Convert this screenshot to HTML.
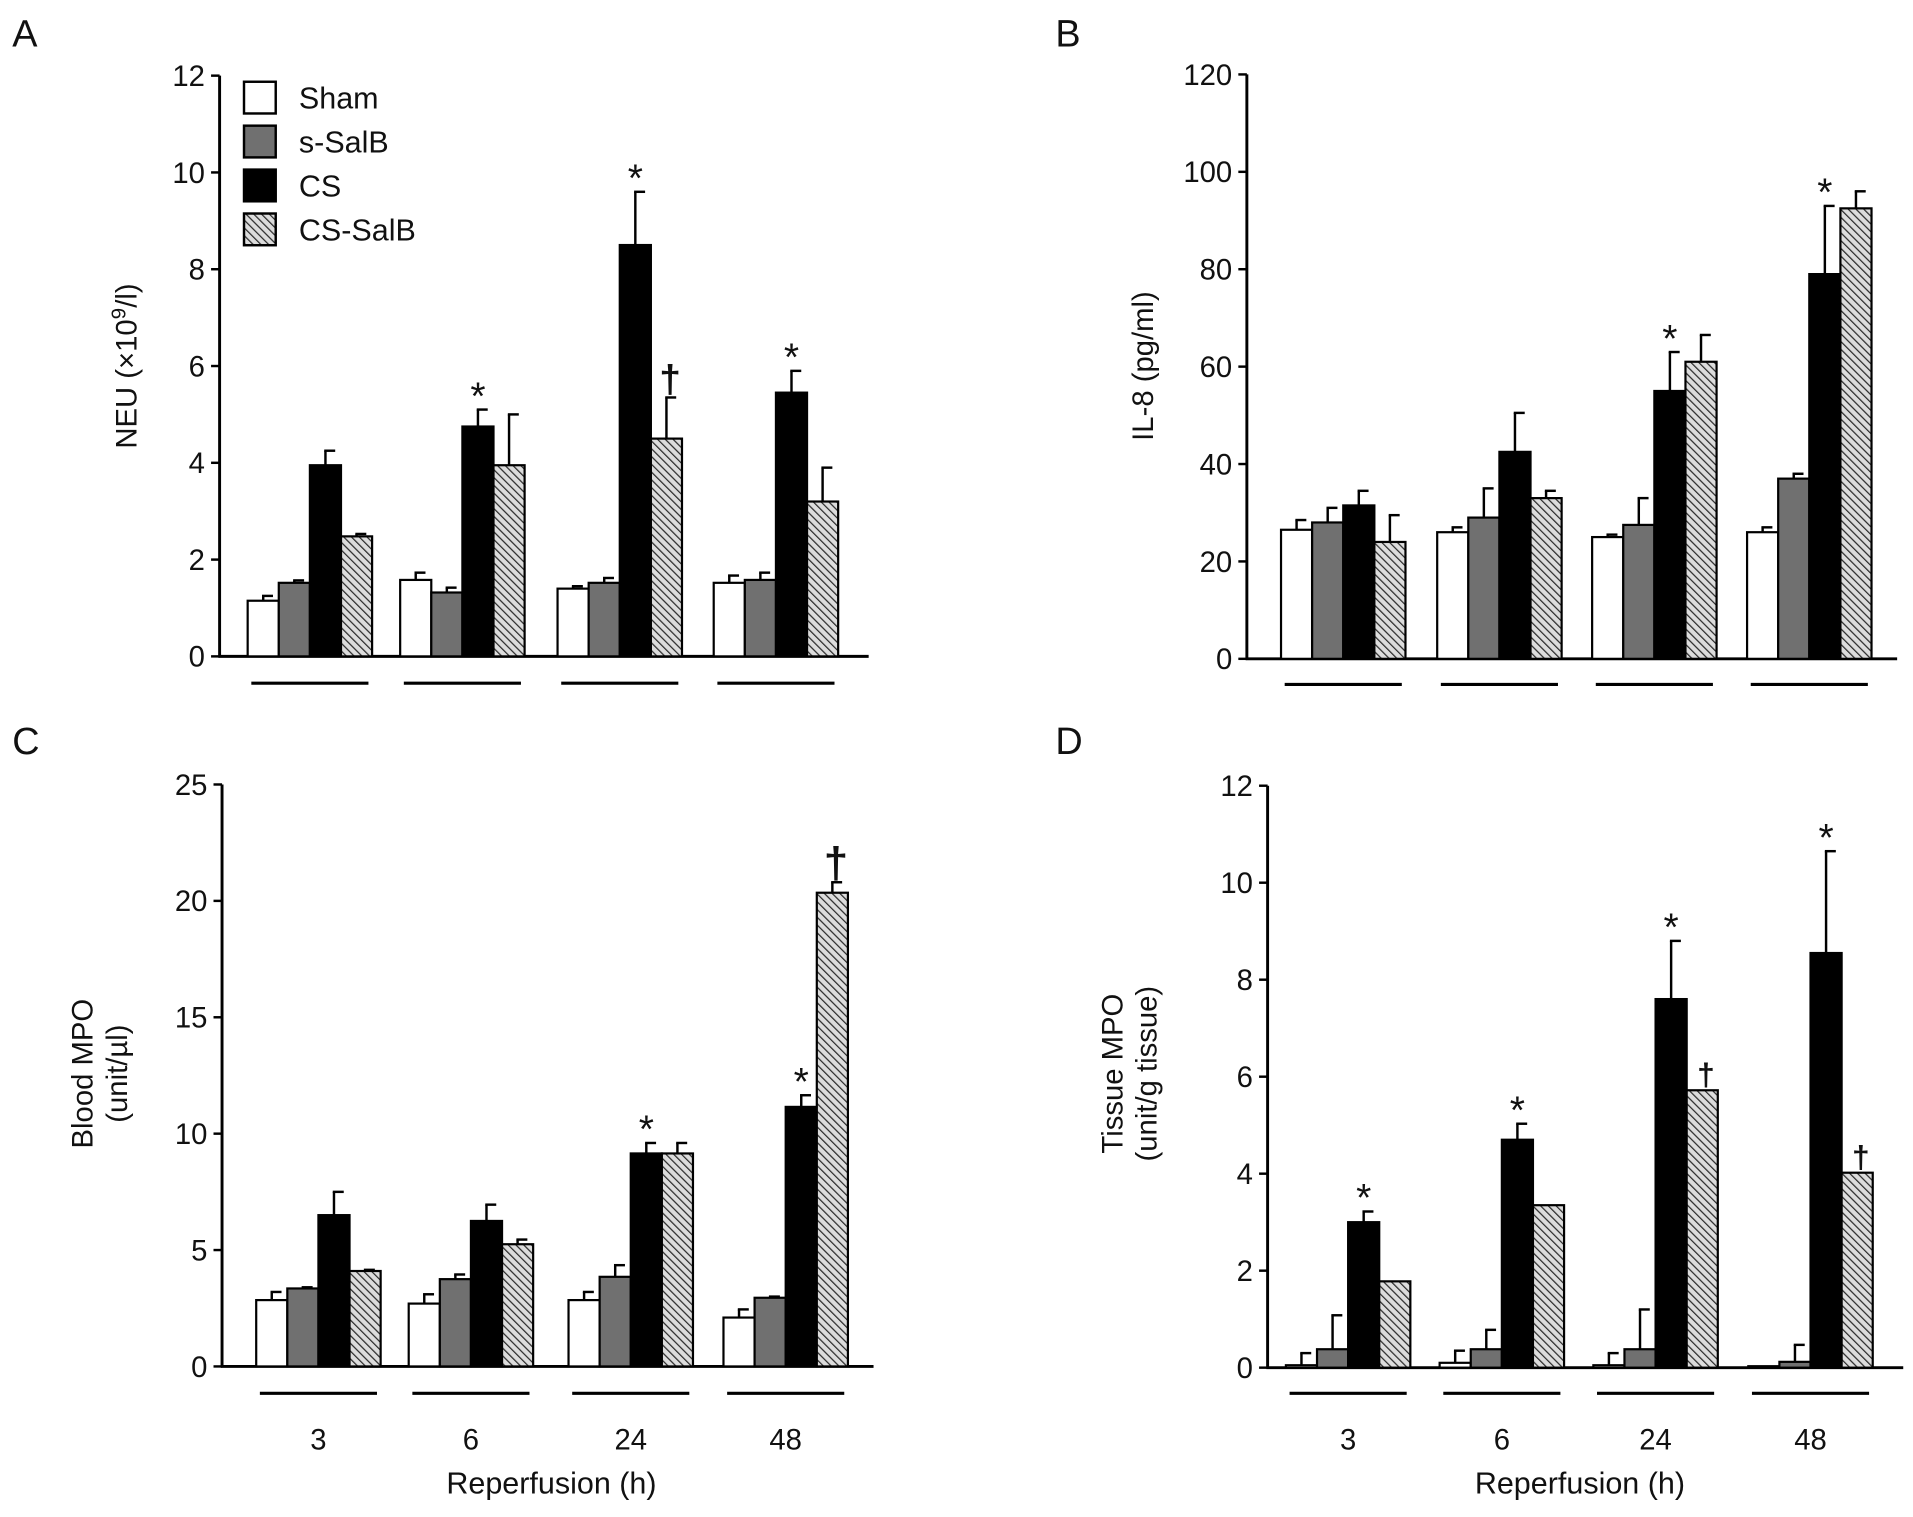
<!DOCTYPE html>
<html><head><meta charset="utf-8"><style>html,body{margin:0;padding:0;background:#fff}svg{display:block}text{font-family:"Liberation Sans",sans-serif;fill:#111}</style></head>
<body>
<svg id="fig" width="1913" height="1517" viewBox="0 0 1568 1243.4" xmlns="http://www.w3.org/2000/svg">
<defs>
<pattern id="hatch" patternUnits="userSpaceOnUse" width="4.5" height="4.5" patternTransform="rotate(-45)">
<rect width="4.5" height="4.5" fill="#dcdcdc"/><line x1="0" y1="0" x2="0" y2="4.5" stroke="#2a2a2a" stroke-width="2"/>
</pattern>
</defs>
<g id="root"></g>
</svg>
<script>
const groups = ["3","6","24","48"];
const series = ["Sham","s-SalB","CS","CS-SalB"];
// Panel A
const aSham=[1.15,1.58,1.4,1.52], aShamE=[0.1,0.15,0.05,0.15];
const aSsalb=[1.52,1.32,1.52,1.58], aSsalbE=[0.05,0.1,0.1,0.15];
const aCS=[3.95,4.75,8.5,5.45], aCSE=[0.3,0.35,1.1,0.45];
const aCSsalb=[2.48,3.95,4.5,3.2], aCSsalbE=[0.05,1.05,0.85,0.7];
const aTicks=[0,2,4,6,8,10,12];
// Panel B
const bSham=[26.5,26,25,26], bShamE=[2,1,0.5,1];
const bSsalb=[28,29,27.5,37], bSsalbE=[3,6,5.5,1];
const bCS=[31.5,42.5,55,79], bCSE=[3,8,8,14];
const bCSsalb=[24,33,61,92.5], bCSsalbE=[5.5,1.5,5.5,3.5];
const bTicks=[0,20,40,60,80,100,120];
// Panel C
const cSham=[2.85,2.7,2.85,2.1], cShamE=[0.35,0.4,0.35,0.35];
const cSsalb=[3.35,3.75,3.85,2.95], cSsalbE=[0.05,0.2,0.5,0.05];
const cCS=[6.5,6.25,9.15,11.15], cCSE=[1,0.7,0.45,0.5];
const cCSsalb=[4.1,5.25,9.15,20.35], cCSsalbE=[0.05,0.2,0.45,0.45];
const cTicks=[0,5,10,15,20,25];
// Panel D
const dSham=[0.05,0.1,0.05,0.03], dShamE=[0.25,0.25,0.25,0];
const dSsalb=[0.38,0.38,0.38,0.12], dSsalbE=[0.7,0.4,0.82,0.35];
const dCS=[3.0,4.7,7.6,8.55], dCSE=[0.22,0.33,1.2,2.1];
const dCSsalb=[1.78,3.35,5.72,4.02], dCSsalbE=[0,0,0,0];
const dTicks=[0,2,4,6,8,10,12];

const NS="http://www.w3.org/2000/svg";
const root=document.getElementById('root');
function mk(tag,attrs,parent,txt){const e=document.createElementNS(NS,tag);for(const k in attrs)e.setAttribute(k,attrs[k]);if(txt!==undefined)e.textContent=txt;(parent||root).appendChild(e);return e;}
const fills=["#fff","#707070","#000","url(#hatch)"];

function panel(o){
  const g=mk('g',{});
  
  
  const y=v=>o.y0-(v/o.max)*(o.y0-o.yTop);
  const t=mk('text',{x:o.lx,y:o.ly,'font-size':31},g,o.letter);
  
  
  const ax=mk('line',{x1:o.ax,y1:o.yTop,x2:o.ax,y2:o.y0,stroke:'#000','stroke-width':2.4},g);
  
  
  const xa=mk('line',{x1:o.ax-1,y1:o.y0,x2:o.xEnd,y2:o.y0,stroke:'#000','stroke-width':2.4},g);
  
  
  o.ticks.forEach(v=>{
    mk('line',{x1:o.ax-7,y1:y(v),x2:o.ax,y2:y(v),stroke:'#000','stroke-width':2},g);
    const tl=mk('text',{x:o.ax-12,y:y(v)+8.5,'font-size':24,'text-anchor':'end'},g,String(v));
    
    
  });
  const bw=25.5;
  o.centers.forEach((c,gi)=>{
    const gl=mk('line',{x1:c-48,y1:o.gy,x2:c+48,y2:o.gy,stroke:'#000','stroke-width':2.6},g);
    
    
    if(o.xlabels){
      const xl=mk('text',{x:c,y:o.gy+46,'font-size':24,'text-anchor':'middle'},g,groups[gi]);
      
      
    }
    o.vals.forEach((arr,si)=>{
      const v=arr[gi], e=o.errs[si][gi];
      const x=c-2*bw+si*bw;
      const yt=y(v);
      if(e>0){
        mk('line',{x1:x+bw/2,y1:yt,x2:x+bw/2,y2:y(v+e),stroke:'#000','stroke-width':2},g);
        mk('line',{x1:x+bw/2-1,y1:y(v+e),x2:x+bw/2+8,y2:y(v+e),stroke:'#000','stroke-width':2},g);
      }
      const r=mk('rect',{x:x,y:yt,width:bw,height:Math.max(o.y0-yt,0.5),fill:fills[si],stroke:'#000','stroke-width':1.8},g);
      
      
    });
  });
  o.marks.forEach(m=>{
    const si=m[0],gi=m[1],sym=m[2],sz=m[3]||32;
    const c=o.centers[gi], x=c-2*bw+si*bw+bw/2;
    const v=o.vals[si][gi]+o.errs[si][gi];
    const mt=mk('text',{x:x+(sym=='†'?3:0),y:y(v)-(sym=='*'?5:4)+(sym=='*'?sz*0.15:0),'font-size':sz,'text-anchor':'middle','font-weight':sym=='†'?'bold':'normal'},g,sym);
    
    
  });
  o.ytitle.forEach((s,i)=>{
    const tx=o.ytx+i*28;
    const tt=mk('text',{x:tx,y:o.yty,'font-size':24,'text-anchor':'middle',transform:`rotate(-90 ${tx} ${o.yty})`},g);
    
    
    if(s.indexOf('^9')>=0){
      const p=s.split('^9');
      mk('tspan',{},tt,p[0]);mk('tspan',{dy:-9,'font-size':17},tt,'9');mk('tspan',{dy:9},tt,p[1]);
    } else tt.textContent=s;
  });
  if(o.xtitle){
    const xt=mk('text',{x:o.xtx,y:o.gy+82,'font-size':25,'text-anchor':'middle'},g,'Reperfusion (h)');
    
    
  }
  return g;
}

panel({letter:'A',lx:10,ly:38,ax:180,yTop:62,y0:538,xEnd:712,max:12,ticks:aTicks,gy:560,
  centers:[254,379,508,636],vals:[aSham,aSsalb,aCS,aCSsalb],errs:[aShamE,aSsalbE,aCSE,aCSsalbE],
  marks:[[2,1,'*'],[2,2,'*'],[2,3,'*'],[3,2,'†',32]],ytitle:['NEU (×10^9/l)'],ytx:112,yty:300});
panel({letter:'B',lx:865,ly:38,ax:1022,yTop:61,y0:540,xEnd:1555,max:120,ticks:bTicks,gy:561,
  centers:[1101,1229,1356,1483],vals:[bSham,bSsalb,bCS,bCSsalb],errs:[bShamE,bSsalbE,bCSE,bCSsalbE],
  marks:[[2,2,'*'],[2,3,'*']],ytitle:['IL-8 (pg/ml)'],ytx:945,yty:300});
panel({letter:'C',lx:10,ly:618,ax:182,yTop:643,y0:1120,xEnd:716,max:25,ticks:cTicks,gy:1142,
  centers:[261,386,517,644],vals:[cSham,cSsalb,cCS,cCSsalb],errs:[cShamE,cSsalbE,cCSE,cCSsalbE],
  marks:[[2,2,'*'],[2,3,'*'],[3,3,'†',36]],ytitle:['Blood MPO','(unit/µl)'],ytx:76,yty:880,xlabels:true,xtitle:true,xtx:452});
panel({letter:'D',lx:865,ly:618,ax:1039,yTop:644,y0:1121,xEnd:1560,max:12,ticks:dTicks,gy:1142,
  centers:[1105,1231,1357,1484],vals:[dSham,dSsalb,dCS,dCSsalb],errs:[dShamE,dSsalbE,dCSE,dCSsalbE],
  marks:[[2,0,'*'],[2,1,'*'],[2,2,'*'],[2,3,'*'],[3,2,'†',26],[3,3,'†',26]],ytitle:['Tissue MPO','(unit/g tissue)'],ytx:920,yty:880,xlabels:true,xtitle:true,xtx:1295});

const lg=mk('g',{});


series.forEach((s,i)=>{
  const yy=67+i*36;
  const e=mk('g',{},lg);
  
  
  mk('rect',{x:200,y:yy,width:26,height:26,fill:fills[i],stroke:'#000','stroke-width':2},e);
  mk('text',{x:245,y:yy+22,'font-size':25},e,s);
});
</script>
</body></html>
